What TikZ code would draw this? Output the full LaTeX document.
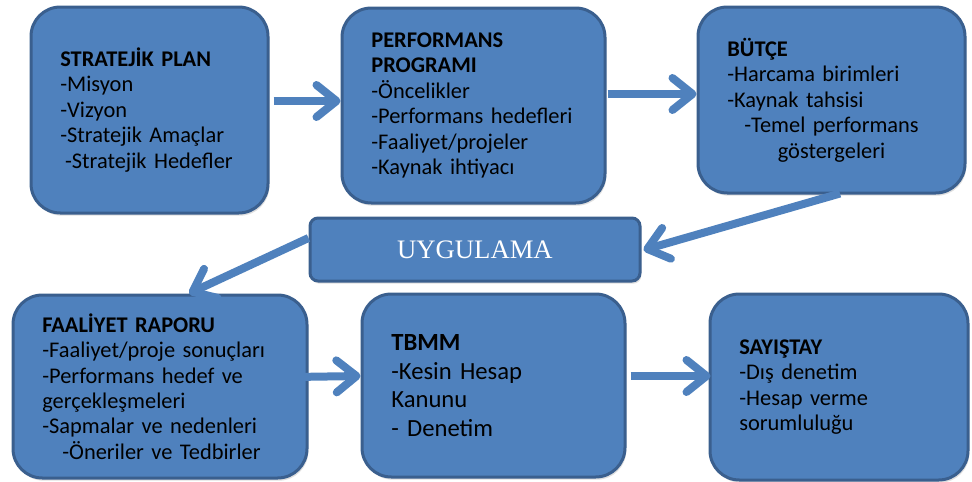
\documentclass[tikz,border=0pt]{standalone}
\usepackage{fontspec}
\setmainfont{Carlito}
\newfontfamily\uyfont{Liberation Serif}
\usetikzlibrary{arrows.meta,positioning,shadows}
\definecolor{boxblue}{HTML}{4F81BD}
\definecolor{boxline}{HTML}{3A5F8E}
\tikzset{
  basic/.style = {draw=boxline, fill=boxblue, line width=2.25pt,
    drop shadow={opacity=0.25, shadow xshift=1pt, shadow yshift=-2pt}},
  stage/.style 2 args = {basic, rounded corners=22pt, align=left, inner xsep=22pt,
    text width=#1*0.75pt-44pt, minimum height=#2*0.75pt,
    font=\fontsize{16.8}{19.1}\selectfont},
  center/.style = {basic, rounded corners=6pt, text=white,
    minimum width=330*0.75pt, minimum height=63*0.75pt,
    font=\uyfont\fontsize{20}{24}\selectfont},
  flow/.style = {draw=boxblue, line width=6pt,
    -{Straight Barb[length=15pt,width=24pt,round]}}
}

\begin{document}
\begin{tikzpicture}[x=0.75pt, y=-0.75pt]
\useasboundingbox (0,0) rectangle (972,482);

% upper row
\node[stage={237}{206}] (plan) at (149.5,110)
  {\textbf{STRATEJİK PLAN}\\-Misyon\\-Vizyon\\-Stratejik Amaçlar\\\hspace*{3.5pt}-Stratejik Hedefler};
\node[stage={263}{195}] (program) at (473.5,105.5)
  {\textbf{PERFORMANS}\\\textbf{PROGRAMI}\\-Öncelikler\\-Performans hedefleri\\-Faaliyet/projeler\\-Kaynak ihtiyacı};
\node[stage={267}{186}] (budget) at (831.5,100)
  {\textbf{BÜTÇE}\\-Harcama birimleri\\-Kaynak tahsisi\\\makebox[\linewidth]{-Temel performans}\\\makebox[\linewidth]{göstergeleri}};

% middle
\node[center] (impl) at (475,249.5) {UYGULAMA};

% lower row
\node[stage={294}{183}] (report) at (160,386.5)
  {\textbf{FAALİYET RAPORU}\\-Faaliyet/proje sonuçları\\-Performans hedef ve\\gerçekleşmeleri\\-Sapmalar ve nedenleri\\\hspace*{15pt}-Öneriler ve Tedbirler};
\node[stage={263}{183}, font=\fontsize{18.5}{21.4}\selectfont] (tbmm) at (493.5,385.5)
  {\textbf{TBMM}\\-Kesin Hesap\\Kanunu\\- Denetim};
\node[stage={258}{186}] (audit) at (839,387)
  {\textbf{SAYIŞTAY}\\-Dış denetim\\-Hesap verme\\sorumluluğu};

% arrows between the stages
\draw[flow] ([shift={(4,-9)}]plan.east) -- ([shift={(0,-4.5)}]program.west);
\draw[flow] ([shift={(1,-11.5)}]program.east) -- ([shift={(0,-6)}]budget.west);
\draw[flow] ([shift={(8.5,-1)}]budget.south) -- ([shift={(2,0.5)}]impl.east);
\draw[flow] ([shift={(0,-11.5)}]impl.west) -- ([shift={(29,0)}]report.north);
\draw[flow] ([shift={(-15,-9.5)}]report.east) -- ([shift={(0,-9.5)}]tbmm.west);
\draw[flow] ([shift={(4,-9.5)}]tbmm.east) -- ([shift={(2,-11)}]audit.west);

\end{tikzpicture}
\end{document}
